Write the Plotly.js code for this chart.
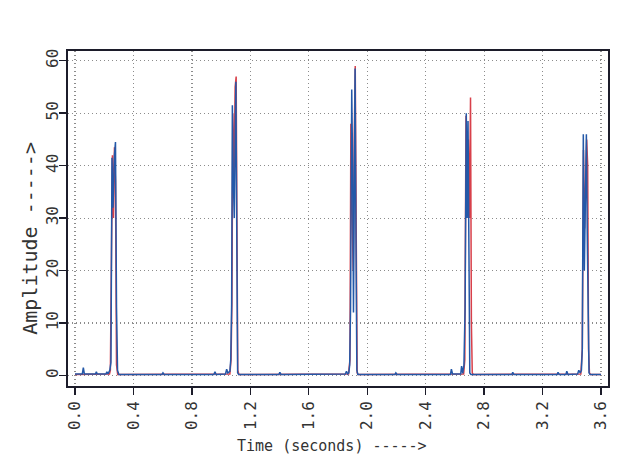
<!DOCTYPE html>
<html>
<head>
<meta charset="utf-8">
<script src="https://cdn.plot.ly/plotly-3.0.1.min.js"></script>
<style>html,body{margin:0;padding:0;background:#fff;}#chart{width:619px;height:472px;}</style>
</head>
<body>
<div id="chart"></div>
<script>
// Time (s) and amplitude for the blue trace
var tBlue = [0.000,0.050,0.057,0.064,0.140,0.146,0.152,0.212,0.218,0.226,0.238,0.246,0.253,0.260,0.270,0.277,0.284,0.291,0.300,
  0.595,0.602,0.610,0.950,0.958,0.966,1.030,1.038,1.046,1.060,1.066,1.072,1.077,1.083,1.090,1.101,1.107,1.113,1.120,
  1.395,1.402,1.410,1.850,1.858,1.866,1.874,1.880,1.886,1.894,1.900,1.906,1.912,1.917,1.923,1.929,1.936,
  2.190,2.196,2.204,2.570,2.576,2.584,2.640,2.646,2.654,2.662,2.670,2.678,2.684,2.690,2.696,2.702,2.710,
  2.990,2.996,3.004,3.300,3.306,3.314,3.360,3.366,3.374,3.440,3.448,3.458,3.466,3.472,3.479,3.486,3.493,3.500,3.506,3.512,3.518,3.525,3.600];
var ampBlue = [0.3,0.3,1.5,0.3,0.3,0.7,0.3,0.3,0.7,0.3,1.0,2.5,41.5,32,42,44.5,13,1.0,0.2,
  0.2,0.5,0.2,0.2,0.7,0.2,0.3,1.2,0.5,0.8,3,13.5,51.5,38,30,56,16,0.5,0.2,
  0.2,0.6,0.2,0.3,0.8,0.3,0.5,2,13,54.5,40,12,35,58.5,26,1,0.2,
  0.2,0.5,0.2,0.2,1.2,0.3,0.3,1.8,0.4,2,13,50,30,48.5,8,0.5,0.2,
  0.2,0.6,0.2,0.2,0.6,0.2,0.2,0.8,0.2,0.3,1.0,0.5,1,5,46,20,30,46,27,5,0.5,0.2,0.2];

// Time (s) and amplitude for the red trace
var tRed = [0.000,0.236,0.242,0.248,0.256,0.263,0.270,0.277,0.284,0.292,
  1.060,1.068,1.074,1.080,1.088,1.096,1.103,1.108,1.114,1.122,
  1.872,1.882,1.888,1.897,1.904,1.911,1.918,1.925,1.931,1.938,
  2.660,2.668,2.676,2.684,2.692,2.700,2.707,2.713,2.719,2.726,
  3.462,3.472,3.480,3.488,3.495,3.502,3.509,3.515,3.521,3.528,3.600];
var ampRed = [0.2,0.3,1,16,42,30,43.5,37,2,0.2,
  0.3,3,14,50,37,55,57,30,1,0.2,
  0.3,3,48,30,20,45,59,26,0.5,0.2,
  0.3,3,49.5,35,45,30,53,10,0.5,0.2,
  0.3,5,43,28,35,45,40,5,0.5,0.2,0.2];

var xTicks = [0.0,0.4,0.8,1.2,1.6,2.0,2.4,2.8,3.2,3.6];
var xTickText = ["0.0","0.4","0.8","1.2","1.6","2.0","2.4","2.8","3.2","3.6"];
var yTicks = [0,10,20,30,40,50,60];
var yTickText = ["0","10","20","30","40","50","60"];

var mono = "DejaVu Sans Mono, Liberation Mono, monospace";
var dark = "#1c1c2a";

var traces = [
  {x: tRed, y: ampRed, type: 'scatter', mode: 'lines', line: {color: '#d8404a', width: 1.5}, hoverinfo: 'skip'},
  {x: tBlue, y: ampBlue, type: 'scatter', mode: 'lines', line: {color: '#2458a8', width: 1.5}, hoverinfo: 'skip'}
];

var grid = {showgrid: true, gridcolor: '#8c8c8c', griddash: '1px,3px', gridwidth: 1.2};

var layout = {
  width: 619, height: 472,
  margin: {l: 68, r: 11, t: 51, b: 86},
  paper_bgcolor: '#fff', plot_bgcolor: '#fff',
  showlegend: false,
  xaxis: Object.assign({
    range: [-0.048, 3.648], tickvals: xTicks, ticktext: xTickText,
    tickangle: -90, ticks: 'outside', ticklen: 7, tickwidth: 1.4, tickcolor: dark,
    showline: true, mirror: true, linecolor: dark, linewidth: 1.8,
    zeroline: false, tickfont: {family: mono, size: 16, color: '#333'}
  }, grid),
  yaxis: Object.assign({
    range: [-2.0, 61.85], tickvals: yTicks, ticktext: yTickText,
    tickangle: -90, ticks: 'outside', ticklen: 7, tickwidth: 1.4, tickcolor: dark,
    showline: true, mirror: true, linecolor: dark, linewidth: 1.8,
    zeroline: false, ticklabelstandoff: -5, tickfont: {family: mono, size: 16, color: '#333'}
  }, grid),
  annotations: [
    {text: 'Time (seconds) ----->', xref: 'paper', yref: 'paper', x: 0.489, y: -0.18,
     xanchor: 'center', yanchor: 'middle', showarrow: false,
     font: {family: mono, size: 15, color: '#333'}},
    {text: 'Amplitude ----->', xref: 'paper', yref: 'paper', x: -0.072, y: 0.44,
     xanchor: 'center', yanchor: 'middle', textangle: -90, showarrow: false,
     font: {family: mono, size: 20, color: '#333'}}
  ]
};

Plotly.newPlot('chart', traces, layout, {staticPlot: true, displayModeBar: false});
</script>
</body>
</html>
